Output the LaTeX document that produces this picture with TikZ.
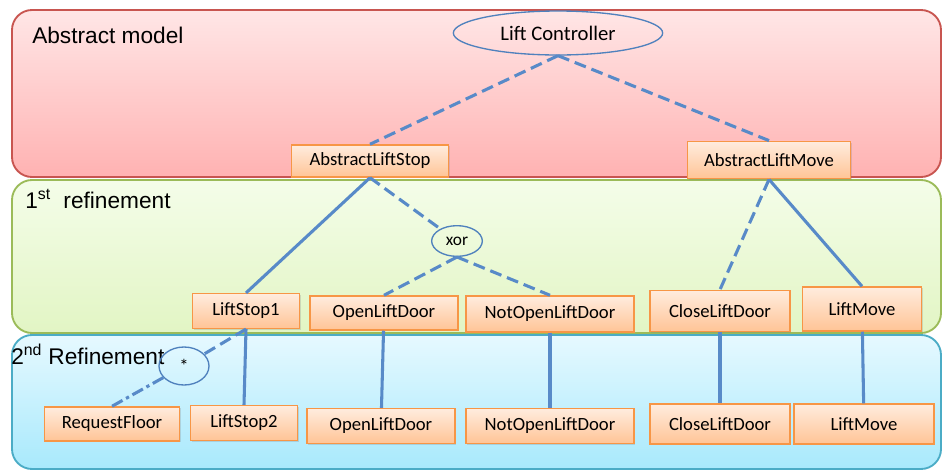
\documentclass[tikz,border=0pt]{standalone}
\usepackage{fontspec}
\setmainfont{Liberation Sans}
\newfontfamily\boxfont{Carlito}
\usetikzlibrary{shapes.geometric,shadows}

\definecolor{redline}{RGB}{200,85,80}
\definecolor{redtop}{RGB}{255,230,230}
\definecolor{redbot}{RGB}{255,178,178}
\definecolor{greenline}{RGB}{155,187,89}
\definecolor{greentop}{RGB}{244,253,233}
\definecolor{greenbot}{RGB}{226,245,196}
\definecolor{blueline}{RGB}{75,172,198}
\definecolor{bluetop}{RGB}{230,249,255}
\definecolor{bluebot}{RGB}{168,233,252}
\definecolor{boxline}{RGB}{247,150,70}
\definecolor{boxtop}{RGB}{255,236,222}
\definecolor{boxbot}{RGB}{255,196,150}
\definecolor{linkblue}{RGB}{88,138,200}
\definecolor{ovalblue}{RGB}{79,129,189}

\begin{document}
\begin{tikzpicture}[x=0.75pt,y=-0.75pt,
  band/.style={draw,rounded corners=15pt,line width=1.4pt},
  box/.style={draw=boxline,line width=1.1pt,top color=boxtop,bottom color=boxbot,
              font=\boxfont\fontsize{14}{16}\selectfont,inner sep=0pt,
              drop shadow={shadow xshift=0.9pt,shadow yshift=-0.9pt,opacity=0.25}},
  oval/.style={ellipse,draw=ovalblue,line width=1pt,inner sep=0pt,
               font=\boxfont\fontsize{14}{16}\selectfont},
  lbl/.style={anchor=base west,inner sep=0pt,font=\fontsize{17}{20}\selectfont},
  ln/.style={draw=linkblue,line width=2.3pt},
  dsh/.style={ln,dash pattern=on 9pt off 4.5pt}]
  \useasboundingbox (0,0) rectangle (942,472);

  % levels
  \draw[band,draw=redline,top color=redtop,bottom color=redbot] (12,10) rectangle (941,177);
  \draw[band,draw=greenline,top color=greentop,bottom color=greenbot] (12,180) rectangle (941,333);
  \draw[band,draw=blueline,top color=bluetop,bottom color=bluebot] (12,335) rectangle (941,469);

  \node[lbl] (abs) at (32,43) {Abstract model};
  \node[lbl] (ref1) at (25,208) {1\textsuperscript{st}\ \ refinement};
  \node[lbl] (ref2) at (11,364) {2\textsuperscript{nd} Refinement};

  % abstract model
  \node[oval,minimum width=157pt,minimum height=33pt,
        font=\boxfont\fontsize{15.5}{18}\selectfont] (lc) at (558,33) {Lift Controller};
  \node[box,minimum width=118pt,minimum height=24pt] (als) at (370,161) {AbstractLiftStop};
  \node[box,minimum width=122pt,minimum height=28pt] (alm) at (769,160) {AbstractLiftMove};

  % first refinement
  \node[oval,minimum width=38pt,minimum height=23pt,
        font=\boxfont\fontsize{13}{15}\selectfont] (xor) at (457,241) {xor};
  \node[box,minimum width=80pt,minimum height=26pt] (ls1) at (246,311) {LiftStop1};
  \node[box,minimum width=111pt,minimum height=25.5pt] (old1) at (384,313) {OpenLiftDoor};
  \node[box,minimum width=126pt,minimum height=27pt] (nold1) at (550,314) {NotOpenLiftDoor};
  \node[box,minimum width=105pt,minimum height=31pt] (cld1) at (720,311) {CloseLiftDoor};
  \node[box,minimum width=89pt,minimum height=33pt] (lm1) at (862,309) {LiftMove};

  % second refinement
  \node[oval,minimum width=37.5pt,minimum height=28.5pt] (star) at (184,366) {*};
  \node[box,minimum width=101pt,minimum height=25.5pt] (rf) at (112,424) {RequestFloor};
  \node[box,minimum width=80pt,minimum height=26pt] (ls2) at (244,423) {LiftStop2};
  \node[box,minimum width=111pt,minimum height=26pt] (old2) at (381,426) {OpenLiftDoor};
  \node[box,minimum width=126pt,minimum height=26pt] (nold2) at (550,426) {NotOpenLiftDoor};
  \node[box,minimum width=105pt,minimum height=30pt] (cld2) at (720,424) {CloseLiftDoor};
  \node[box,minimum width=105pt,minimum height=30pt] (lm2) at (864,424) {LiftMove};

  \foreach \a/\b in {lc.south/als.north,lc.south/alm.north,als.south/xor,
                     xor.south/old1.north,xor.south/nold1.north,
                     alm.south/cld1.north,ls1.south/star}
    \draw[dsh] (\a) -- (\b);
  \foreach \a/\b in {als.south/ls1.north,alm.south/lm1.north,ls1.south/ls2.north,
                     old1/old2,nold1/nold2,cld1/cld2,lm1/lm2}
    \draw[ln] (\a) -- (\b);
  \draw[ln,dash pattern=on 9pt off 3pt on 2.5pt off 3pt] (star) -- (rf.north);
\end{tikzpicture}
\end{document}
